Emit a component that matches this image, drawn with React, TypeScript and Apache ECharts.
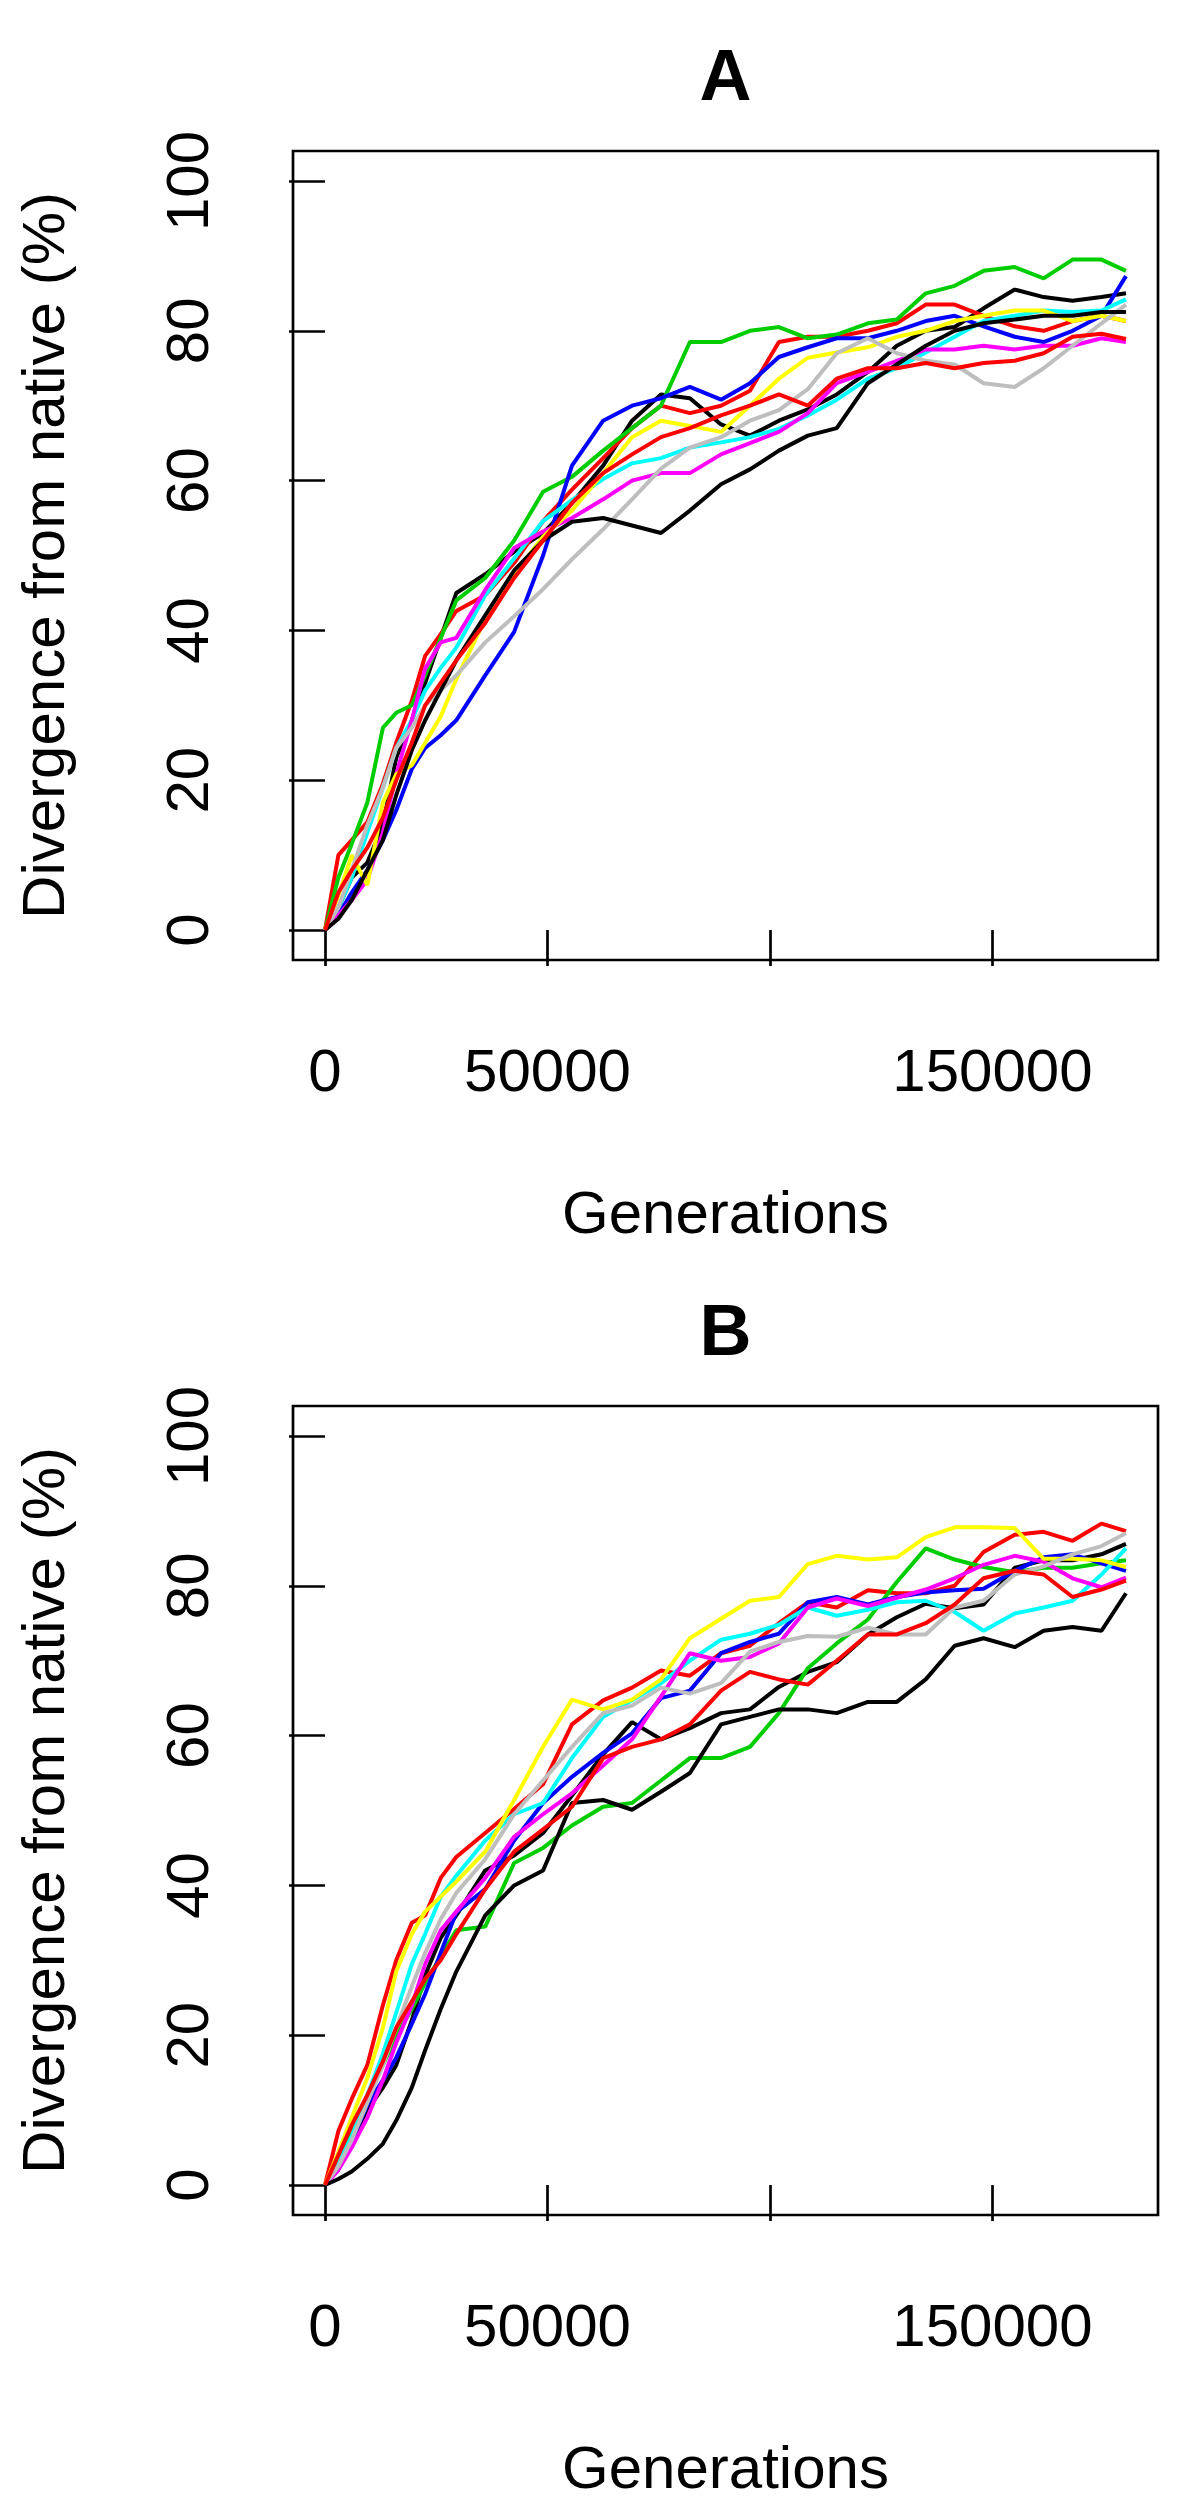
import React, { useEffect, useRef } from "react";
import * as echarts from "echarts";

const generations = [0, 3000, 6000, 9500, 13000, 16000, 19500, 22500, 26000, 29500, 36000, 42500, 49000, 55500, 62500, 69000, 75500, 82000, 89000, 95500, 102000, 108500, 115000, 122000, 128500, 135000, 141500, 148000, 155000, 161500, 168000, 174500, 180000];

const xTickValues = [0, 50000, 100000, 150000];
const xLabelValues = [0, 50000, 150000];
const yTickValues = [0, 20, 40, 60, 80, 100];

// R default palette, recycled for 10 runs
const runColors = ["#000000", "#FF0000", "#00CD00", "#0000FF", "#00FFFF", "#FF00FF", "#FFFF00", "#BEBEBE", "#000000", "#FF0000"];

// Panel A runs (divergence %)
const A_run1 = [0, 3, 7, 9, 14, 23, 28, 33, 39, 45, 47.5, 50.5, 53, 57, 62, 68, 71.5, 71, 67.5, 66, 68, 69.5, 71.5, 74.5, 78, 80, 80.5, 83, 85.5, 84.5, 84, 84.5, 85];
const A_run2 = [0, 10, 12, 14.4, 19.5, 25, 30.6, 36.6, 39.5, 42.6, 44.7, 49, 54.6, 58.8, 63, 67, 70, 69, 70, 72, 78.5, 79.2, 79.2, 80, 81, 83.5, 83.5, 82, 80.6, 80, 81.3, 82, 81.3];
const A_run3 = [0, 7, 11.5, 17, 27, 29, 30, 34, 39, 44, 47, 52, 58.5, 60.5, 64, 67, 70, 78.5, 78.5, 80, 80.5, 79, 79.5, 81, 81.5, 85, 86, 88, 88.5, 87, 89.5, 89.5, 88];
const A_run4 = [0, 2, 5, 8, 12, 16, 21.5, 24.3, 26, 28, 34, 39.8, 50, 62, 68, 70, 71, 72.5, 70.8, 73, 76.5, 77.8, 79, 79, 80, 81.3, 82, 80.6, 79.2, 78.5, 80, 82, 87.3];
const A_run5 = [0, 3, 7, 13, 19, 24.3, 28, 32, 35, 37.7, 44.7, 49.6, 54.6, 57.4, 60.2, 62.3, 63, 64.4, 65.1, 65.8, 66.9, 68.7, 70.8, 73.6, 75, 77.1, 79.2, 81.3, 82, 82.7, 82.5, 82.7, 84.2];
const A_run6 = [0, 2, 4, 6.7, 13, 20.8, 28, 34.9, 38.4, 39, 45.4, 51, 53.2, 55, 57.5, 60, 61, 61, 63.5, 65, 66.5, 69, 73, 74.5, 76, 77.5, 77.5, 78, 77.5, 78, 78, 79, 78.5];
const A_run7 = [0, 4.6, 10, 6, 17, 20.8, 22, 25, 28.5, 33.5, 41.5, 47.5, 52.5, 56, 61, 65.8, 68, 67.3, 66.5, 70, 73.6, 76.4, 77.1, 77.8, 79.2, 80, 81.3, 82, 82.7, 82.7, 81.3, 82, 81.3];
const A_run8 = [0, 3, 8, 14, 19, 24.3, 27, 30, 32, 34, 38.4, 41.9, 45.5, 49.5, 53.5, 57.5, 61.6, 64.4, 65.8, 68, 69.4, 72.2, 77, 79, 77, 76, 75.5, 73, 72.5, 75, 78, 81, 83.5];
const A_run9 = [0, 1.5, 4, 8, 12, 18, 24, 28, 32, 36, 42, 48, 52, 54.5, 55, 54, 53, 56, 59.5, 61.5, 64, 66, 67, 73, 75.5, 78, 80, 81, 81.5, 82, 82, 82.5, 82.5];
const A_run10 = [0, 5, 8, 11, 15, 20, 25, 30, 33, 36, 41, 47, 52, 57, 61, 63.5, 65.8, 67, 68.7, 70, 71.5, 70, 73.6, 75, 75, 75.7, 75, 75.7, 76, 77, 79.2, 79.6, 78.9];

// Panel B runs (divergence %)
const B_run1 = [0, 3, 6, 10, 13, 16, 22, 28, 33, 36, 42, 44, 47, 52, 57.5, 61.8, 59.5, 61, 63, 63.5, 66.5, 68.5, 69.8, 73.5, 75.8, 77.6, 77, 77.5, 82.4, 83.4, 83.4, 84.2, 85.6];
const B_run2 = [0, 7.2, 11.5, 16, 24, 30, 35, 36, 41, 43.8, 47, 50.2, 53.5, 61.5, 64.7, 66.4, 68.7, 68, 71, 72, 75, 77.8, 77.1, 79.4, 79, 79, 80, 84.5, 86.8, 87.2, 86, 88.3, 87.3];
const B_run3 = [0, 3, 7, 12, 16, 19.9, 23.5, 27, 30.5, 34, 34.5, 43, 45, 48, 50.5, 51, 54, 57, 57, 58.5, 63, 69, 72.3, 75.5, 80.5, 85, 83.5, 82.5, 81.8, 82.4, 82.4, 83, 83.4];
const B_run4 = [0, 2.5, 6, 10.7, 14, 17, 21.5, 25.5, 31, 36.4, 39.5, 46, 51, 54.5, 57.7, 60.3, 65, 66, 71, 72.5, 73.6, 77.8, 78.5, 77.5, 78.5, 79.1, 79.4, 79.6, 82, 83.8, 84.2, 83, 82];
const B_run5 = [0, 3, 6.5, 12, 17.5, 23, 29.5, 33.5, 38.5, 41.3, 46, 49.5, 51, 57, 62.5, 64.7, 67, 70, 72.8, 73.6, 74.8, 77.1, 76, 76.8, 77.8, 78, 76.5, 74, 76.3, 77.1, 78, 81.5, 85];
const B_run6 = [0, 2, 5, 9, 14, 19, 24, 29.5, 34, 36.5, 41, 46.5, 49.5, 52.3, 56, 59.5, 65.2, 71, 70, 70.5, 72.3, 77.1, 78.3, 77.3, 78.4, 79.5, 81, 82.8, 84, 83.2, 81, 79.8, 81.1];
const B_run7 = [0, 4.4, 9, 14.3, 21, 28.5, 33.5, 36.5, 38.5, 40.5, 44.5, 51.4, 58.5, 64.8, 63.5, 64.8, 67.5, 73, 75.6, 78, 78.5, 82.9, 84, 83.5, 83.8, 86.5, 87.8, 87.8, 87.7, 83.6, 83.6, 83.4, 82.5];
const B_run8 = [0, 2.5, 6, 11, 16, 21, 26.5, 31, 35.5, 39, 43.5, 49.5, 54, 58.5, 63, 64, 66.4, 65.6, 67, 71.2, 72.5, 73.3, 73.2, 74.4, 73.5, 73.5, 77.1, 78, 81.5, 82.6, 84.2, 85.3, 87];
const B_run9 = [0, 0.8, 1.8, 3.5, 5.5, 8.6, 13, 18, 23.5, 28.5, 36, 40, 42, 51, 51.4, 50.1, 52.5, 55, 61.5, 62.5, 63.5, 63.5, 63, 64.5, 64.5, 67.5, 72, 73, 71.8, 74, 74.5, 74, 79];
const B_run10 = [0, 4, 8, 12, 16.5, 21, 24.5, 27.5, 30, 33.5, 39.5, 44.5, 47.5, 50.5, 57, 58.5, 59.5, 61.5, 66, 68.5, 67.5, 66.8, 70, 73.5, 73.5, 75, 77.5, 81, 82, 81.5, 78.5, 79.5, 80.7];

const panelARuns = [A_run1, A_run2, A_run3, A_run4, A_run5, A_run6, A_run7, A_run8, A_run9, A_run10];
const panelBRuns = [B_run1, B_run2, B_run3, B_run4, B_run5, B_run6, B_run7, B_run8, B_run9, B_run10];

const panelTitles = ["A", "B"];
const xTitle = "Generations";
const yTitle = "Divergence from native (%)";

const FONT = "'Liberation Sans', Arial, Helvetica, sans-serif";
const PANEL_OFFSET = 1255;
const BOX_LEFT = 293;
const BOX_TOP = 151;
const BOX_W = 865;
const BOX_H = 809;

function buildOption() {
  const grids: any[] = [];
  const xAxes: any[] = [];
  const yAxes: any[] = [];
  const series: any[] = [];
  const graphics: any[] = [];

  [panelARuns, panelBRuns].forEach((runs, p) => {
    const top = BOX_TOP + p * PANEL_OFFSET;
    grids.push({
      left: BOX_LEFT,
      top,
      width: BOX_W,
      height: BOX_H,
      show: true,
      borderColor: "#000",
      borderWidth: 2.7,
      backgroundColor: "transparent",
      containLabel: false,
    });
    xAxes.push({
      type: "value",
      gridIndex: p,
      min: -7200,
      max: 187200,
      axisLine: { show: false },
      splitLine: { show: false },
      axisTick: {
        show: true,
        inside: false,
        length: 36,
        customValues: xTickValues,
        lineStyle: { color: "#000", width: 2.7 },
      },
      axisLabel: {
        show: true,
        customValues: xLabelValues,
        margin: 80,
        fontSize: 60,
        color: "#000",
        fontFamily: FONT,
        formatter: (v: number) => String(v),
      },
    });
    yAxes.push({
      type: "value",
      gridIndex: p,
      min: -4,
      max: 104,
      axisLine: { show: false },
      splitLine: { show: false },
      axisTick: {
        show: true,
        inside: false,
        length: 36,
        customValues: yTickValues,
        lineStyle: { color: "#000", width: 2.7 },
      },
      axisLabel: {
        show: true,
        customValues: yTickValues,
        rotate: 90,
        margin: 76,
        fontSize: 60,
        color: "#000",
        fontFamily: FONT,
        formatter: (v: number) => String(v),
      },
    });
    runs.forEach((vals, i) => {
      series.push({
        type: "line",
        name: `${panelTitles[p]} run ${i + 1}`,
        xAxisIndex: p,
        yAxisIndex: p,
        data: generations.map((g, k) => [g, vals[k]]),
        showSymbol: false,
        symbol: "none",
        silent: true,
        lineStyle: { color: runColors[i], width: 4 },
        itemStyle: { color: runColors[i] },
        z: 2 + i,
      });
    });
    const cx = BOX_LEFT + BOX_W / 2;
    const cy = top + BOX_H / 2;
    graphics.push(
      {
        type: "text",
        x: cx,
        y: 75 + p * PANEL_OFFSET,
        style: {
          text: panelTitles[p],
          fontSize: 72,
          fontWeight: "bold",
          fontFamily: FONT,
          fill: "#000",
          textAlign: "center",
          textVerticalAlign: "middle",
        },
      },
      {
        type: "text",
        x: cx,
        y: 1212 + p * PANEL_OFFSET,
        style: {
          text: xTitle,
          fontSize: 60,
          fontFamily: FONT,
          fill: "#000",
          textAlign: "center",
          textVerticalAlign: "middle",
        },
      },
      {
        type: "text",
        x: 43,
        y: cy,
        rotation: Math.PI / 2,
        style: {
          text: yTitle,
          fontSize: 60,
          fontFamily: FONT,
          fill: "#000",
          textAlign: "center",
          textVerticalAlign: "middle",
        },
      }
    );
  });

  return {
    animation: false,
    backgroundColor: "#fff",
    grid: grids,
    xAxis: xAxes,
    yAxis: yAxes,
    series,
    graphic: graphics,
  };
}

export default function App() {
  const ref = useRef<HTMLDivElement>(null);
  useEffect(() => {
    document.body.style.margin = "0";
    const chart = echarts.init(ref.current as HTMLDivElement, null, { renderer: "svg" });
    chart.setOption(buildOption() as any);
    return () => chart.dispose();
  }, []);
  return <div ref={ref} style={{ width: 1200, height: 2510 }} />;
}
